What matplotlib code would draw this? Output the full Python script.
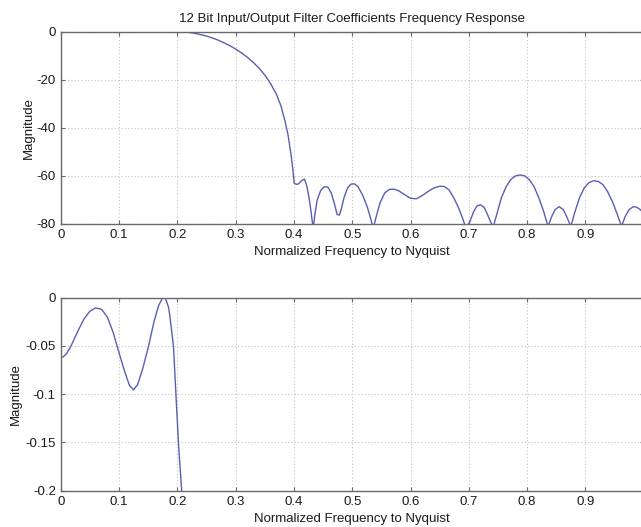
import matplotlib
matplotlib.use("Agg")
import matplotlib.pyplot as plt

plt.rcParams['font.family'] = ['Liberation Sans', 'DejaVu Sans']

# Top panel: full response (dB)
freq_top = [0.200, 0.210, 0.220, 0.230, 0.240, 0.250, 0.260, 0.270, 0.280, 0.290,
            0.300, 0.310, 0.320, 0.330, 0.340, 0.350, 0.360, 0.370, 0.378, 0.385,
            0.390, 0.395, 0.398, 0.4005, 0.404, 0.408, 0.413, 0.418, 0.422, 0.426,
            0.430, 0.433, 0.436, 0.440, 0.446, 0.452, 0.458, 0.464, 0.470, 0.474,
            0.478, 0.481, 0.486, 0.492, 0.498, 0.504, 0.510, 0.518, 0.526, 0.532,
            0.536, 0.540, 0.548, 0.556, 0.564, 0.572, 0.580, 0.590, 0.600, 0.610,
            0.620, 0.630, 0.640, 0.650, 0.658, 0.666, 0.674, 0.682, 0.690, 0.694,
            0.698, 0.702, 0.708, 0.714, 0.720, 0.726, 0.732, 0.738, 0.742, 0.748,
            0.756, 0.764, 0.772, 0.780, 0.788, 0.796, 0.804, 0.812, 0.820, 0.828,
            0.836, 0.842, 0.848, 0.855, 0.862, 0.868, 0.875, 0.882, 0.890, 0.898,
            0.906, 0.914, 0.922, 0.930, 0.938, 0.946, 0.954, 0.962, 0.968, 0.975,
            0.982, 0.988, 0.994, 1.000]
mag_top = [0.0, -0.1, -0.3, -0.7, -1.2, -1.8, -2.6, -3.5, -4.6, -5.8,
           -7.2, -8.8, -10.6, -12.7, -15.1, -18.0, -21.6, -26.0, -31.0, -37.5,
           -43.0, -51.0, -57.0, -63.0, -63.5, -63.3, -62.0, -61.3, -64.0, -69.0,
           -76.0, -82.0, -76.0, -70.0, -66.0, -64.5, -64.6, -67.0, -72.0, -76.0,
           -76.3, -74.0, -69.0, -65.0, -63.4, -63.3, -64.5, -68.0, -73.0, -78.0,
           -82.0, -78.0, -71.0, -67.0, -65.6, -65.5, -66.2, -67.8, -69.3, -69.5,
           -68.2, -66.5, -65.0, -64.3, -64.4, -65.8, -69.0, -73.0, -78.0, -81.0,
           -80.5, -79.0, -75.0, -72.5, -72.0, -73.0, -76.0, -79.5, -81.0, -76.0,
           -69.0, -64.5, -61.5, -60.0, -59.6, -60.0, -61.6, -64.5, -69.0, -74.5,
           -81.0, -77.0, -74.0, -72.8, -74.0, -77.0, -81.0, -75.0, -69.0, -65.0,
           -62.8, -62.0, -62.3, -63.6, -66.5, -70.5, -75.5, -81.0, -77.0, -74.0,
           -72.8, -73.0, -74.0, -75.5]

# Bottom panel: passband detail
freq_bot = [0.000, 0.005, 0.010, 0.015, 0.020, 0.030, 0.040, 0.050, 0.060, 0.070,
            0.080, 0.090, 0.100, 0.110, 0.118, 0.125, 0.132, 0.140, 0.150, 0.160,
            0.168, 0.175, 0.180, 0.185, 0.1875, 0.1935, 0.1990, 0.2020, 0.2075, 0.2100]
mag_bot = [-0.062, -0.061, -0.058, -0.053, -0.047, -0.034, -0.022, -0.014, -0.0105, -0.012,
           -0.020, -0.036, -0.057, -0.077, -0.091, -0.0955, -0.090, -0.075, -0.052, -0.025,
           -0.008, 0.0, -0.001, -0.010, -0.020, -0.051, -0.116, -0.151, -0.200, -0.250]

xticks = [0, 0.1, 0.2, 0.3, 0.4, 0.5, 0.6, 0.7, 0.8, 0.9]
xticklabels = ['0', '0.1', '0.2', '0.3', '0.4', '0.5', '0.6', '0.7', '0.8', '0.9']
yticks_top = [0, -20, -40, -60, -80]
yticks_bot = [0, -0.05, -0.1, -0.15, -0.2]
yticklabels_bot = ['0', '-0.05', '-0.1', '-0.15', '-0.2']

title = '12 Bit Input/Output Filter Coefficients Frequency Response'
xlabel = 'Normalized Frequency to Nyquist'
ylabel = 'Magnitude'

W, H = 641, 527
fig = plt.figure(figsize=(W / 100, H / 100), dpi=100)

line_color = '#5a5eb4'
spine_color = '#6a6a6a'
text_color = '#1a1a1a'
fs = 9.5


def make_axes(top_px, bottom_px):
    left_px, right_px = 60.7, 643.7
    return fig.add_axes([left_px / W, (H - bottom_px) / H,
                         (right_px - left_px) / W, (bottom_px - top_px) / H])


def style(ax, yticks, ylabels, ypad):
    ax.set_xlim(0, 1)
    ax.set_xticks(xticks + [1.0])
    ax.set_xticklabels(xticklabels + [''])
    ax.set_yticks(yticks)
    ax.set_yticklabels(ylabels)
    ax.tick_params(direction='in', length=3, width=0.8, color=spine_color,
                   labelsize=fs, labelcolor=text_color, top=True, right=True, pad=3.5)
    for s in ax.spines.values():
        s.set_color(spine_color)
        s.set_linewidth(1.0)
    ax.grid(True, linestyle=(0, (1, 2)), color='#c4c4c4', linewidth=0.8)
    ax.set_xlabel(xlabel, fontsize=fs, color=text_color, labelpad=4)
    ax.set_ylabel(ylabel, fontsize=fs, color=text_color, labelpad=ypad)


ax1 = make_axes(31.7, 224.0)
ax1.plot(freq_top, mag_top, color=line_color, linewidth=1.0)
ax1.set_ylim(-80, 0)
style(ax1, yticks_top, [str(v) for v in yticks_top], 1.5)
ax1.set_title(title, fontsize=fs, color=text_color, pad=7)

ax2 = make_axes(297.7, 490.7)
ax2.plot(freq_bot, mag_bot, color=line_color, linewidth=1.0)
ax2.set_ylim(-0.2, 0)
style(ax2, yticks_bot, yticklabels_bot, 2.5)

fig.savefig('out.png', dpi=100)
